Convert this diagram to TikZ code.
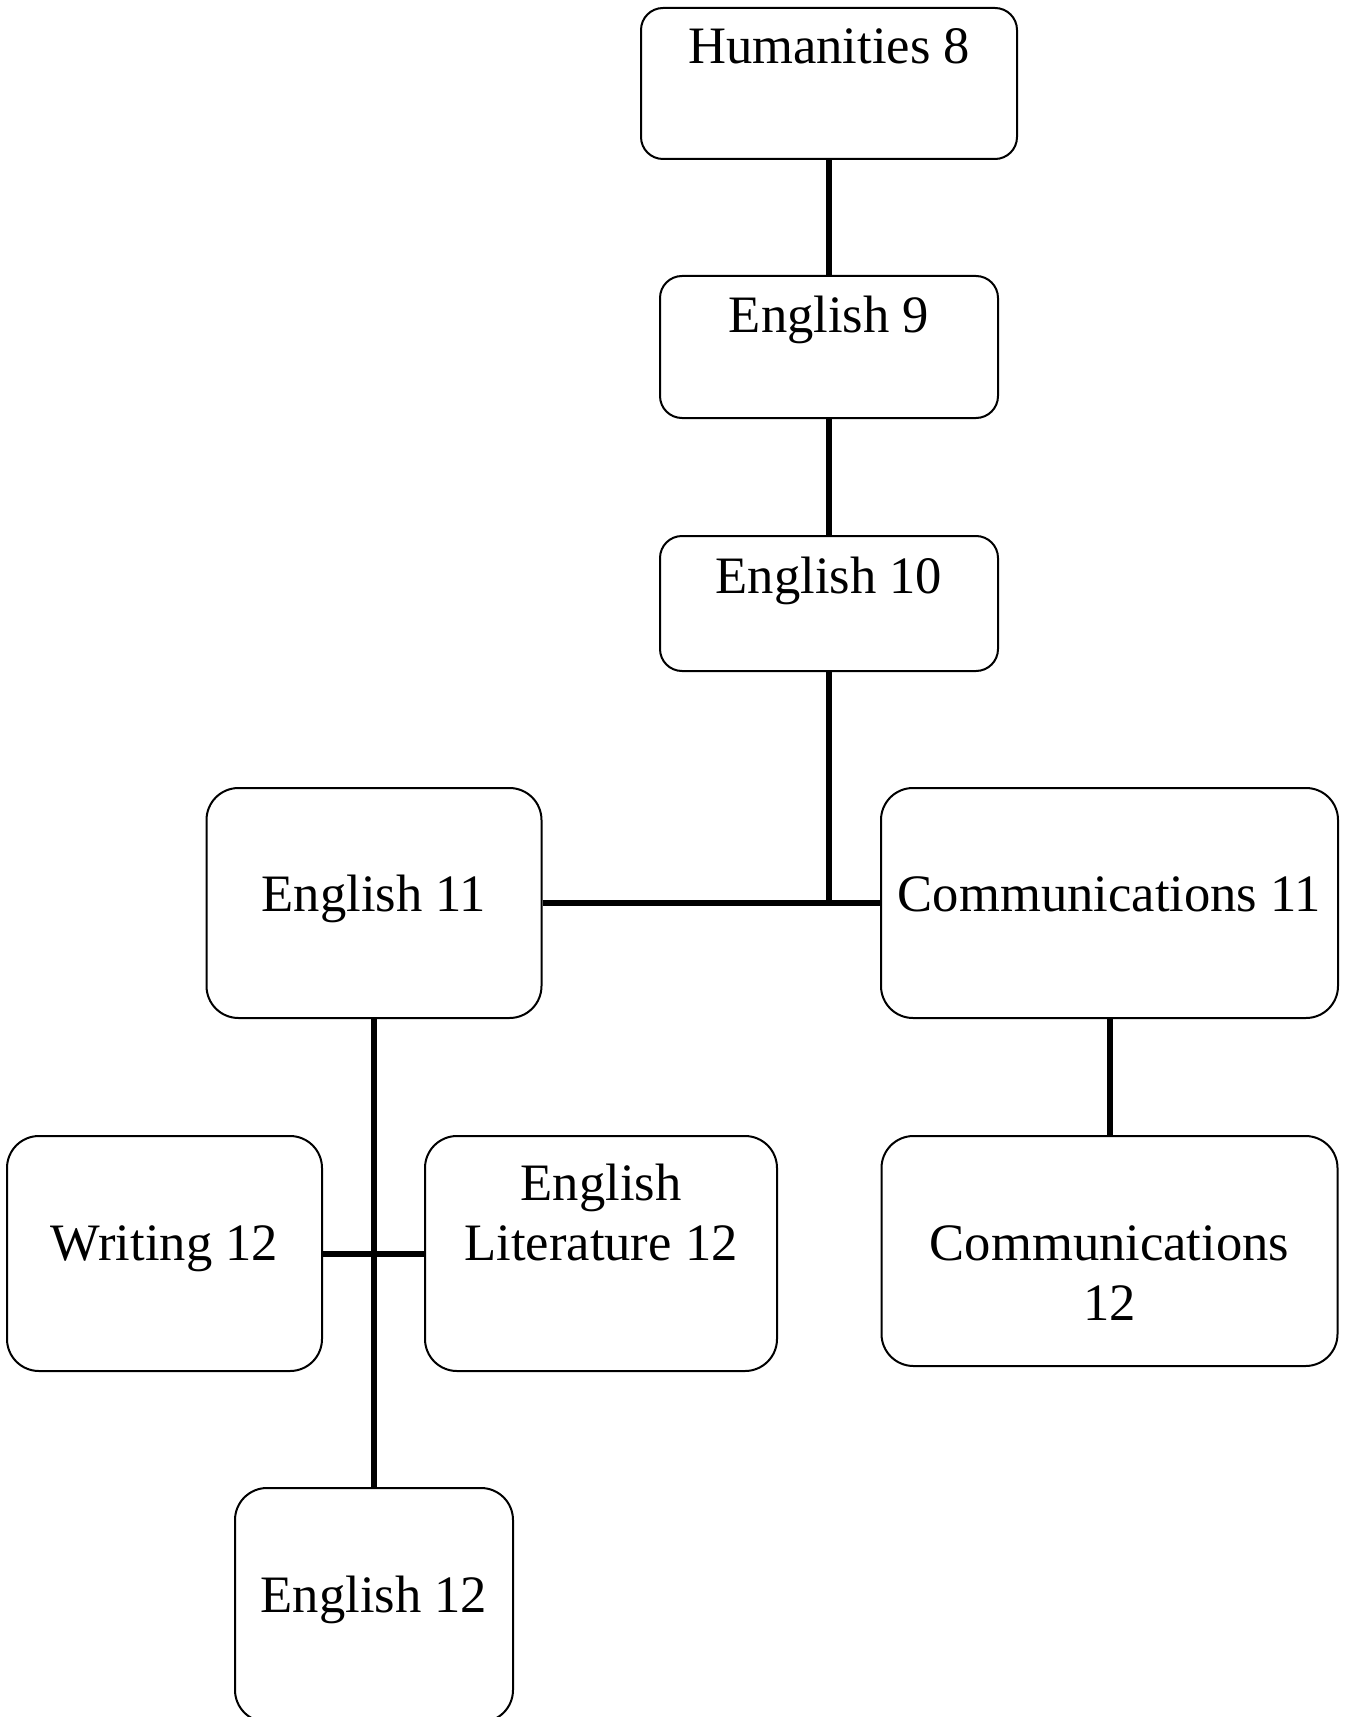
\documentclass[tikz,border=0pt]{standalone}
\usepackage{fontspec}
\setmainfont{Liberation Serif}
\begin{document}
\begin{tikzpicture}[x=0.5pt,y=-0.5pt,
  box/.style={draw, line width=1pt, rounded corners=11pt, inner sep=0pt},
  bigbox/.style={box, rounded corners=16pt},
  lbl/.style={anchor=base, inner sep=0pt, font=\fontsize{26.3}{30}\selectfont, align=center},
  conn/.style={line width=3pt}]
\useasboundingbox[fill=white] (0,0) rectangle (1345,1717);
% boxes
\node[box, minimum width=188pt, minimum height=75.5pt] (h8) at (829,83.5) {};
\node[box, minimum width=169pt, minimum height=71pt] (e9) at (829,347) {};
\node[box, minimum width=169pt, minimum height=67.5pt] (e10) at (829,603.5) {};
\node[bigbox, minimum width=167.5pt, minimum height=115pt] (e11) at (374,903) {};
\node[bigbox, minimum width=228.5pt, minimum height=115pt] (c11) at (1109.5,903) {};
\node[bigbox, minimum width=157.5pt, minimum height=117.5pt] (w12) at (164.5,1253.5) {};
\node[bigbox, minimum width=176pt, minimum height=117.5pt] (el12) at (601,1253.5) {};
\node[bigbox, minimum width=228pt, minimum height=115pt] (c12) at (1109.5,1251) {};
\node[bigbox, minimum width=139pt, minimum height=117pt] (e12) at (374,1605) {};
% texts
\node[lbl] (th8) at (829,64) {Humanities 8};
\node[lbl] (te9) at (829,333) {English 9};
\node[lbl] (te10) at (829,593) {English 10};
\node[lbl] (te11) at (374,911) {English 11};
\node[lbl] (tc11) at (1109.5,911) {Communications 11};
\node[lbl] (tw12) at (164.5,1260) {Writing 12};
\node[lbl] (tel12a) at (601,1200) {English};
\node[lbl] (tel12b) at (601,1260) {Literature 12};
\node[lbl] (tc12a) at (1109.5,1260) {Communications};
\node[lbl] (tc12b) at (1109.5,1320) {12};
\node[lbl] (te12) at (374,1612) {English 12};
% connectors
\coordinate (j1) at (e10.south |- e11.east);
\draw[conn] (h8.south) -- (e9.north);
\draw[conn] (e9.south) -- (e10.north);
\draw[conn] (e10.south) -- (j1);
\draw[conn] (e11.east) -- (c11.west);
\draw[conn] (c11.south) -- (c12.north);
\draw[conn] (e11.south) -- (e12.north);
\draw[conn] (w12.east) -- (el12.west);
\end{tikzpicture}
\end{document}
